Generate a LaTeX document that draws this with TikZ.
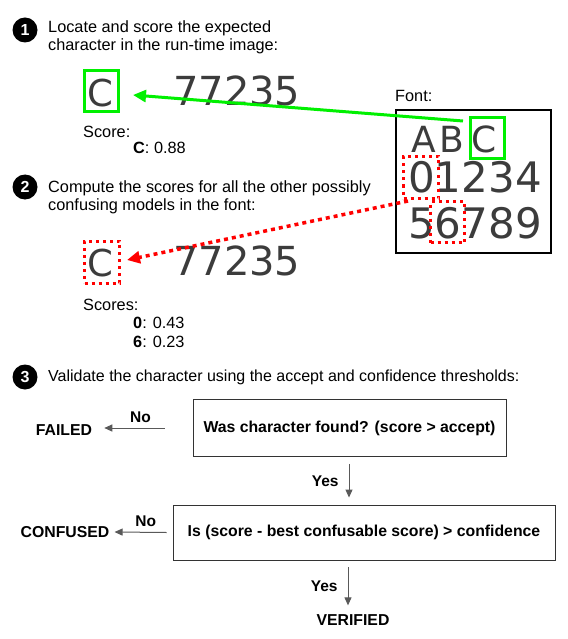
\documentclass[tikz,border=0pt]{standalone}
\usepackage{fontspec}
\setmainfont{Liberation Sans}
\newfontfamily\glyphfont{DejaVu Sans}
\definecolor{matchgreen}{RGB}{0, 240, 0}
\definecolor{confred}{RGB}{255, 0, 0}
\definecolor{glyphgray}{RGB}{60, 60, 60}
\usetikzlibrary{arrows.meta, positioning, calc}

\begin{document}
\begin{tikzpicture}[x=1pt, y=-1pt,
  badge/.style={circle, fill=black, text=white, minimum size=25pt, inner sep=0pt, font=\bfseries\fontsize{16}{16}\selectfont},
  caption/.style={anchor=base west, inner sep=0pt, font=\fontsize{16.3}{18}\selectfont},
  glyph/.style={anchor=base west, inner sep=0pt, text=glyphgray, font=\glyphfont\fontsize{40}{40}\selectfont},
  matchbox/.style={draw=matchgreen, line width=3pt, minimum width=34pt, minimum height=41pt, inner sep=0pt},
  confbox/.style={draw=confred, line width=3pt, dash pattern=on 3pt off 4pt, minimum width=35pt, minimum height=42pt, inner sep=0pt},
  flowbox/.style={draw=black!80, line width=0.9pt, inner sep=0pt, font=\bfseries\fontsize{15.8}{15.8}\selectfont},
  outcome/.style={inner sep=0pt, font=\bfseries\fontsize{15.8}{15.8}\selectfont},
  answer/.style={inner sep=0pt, font=\bfseries\fontsize{15.5}{15.5}\selectfont},
  flowarrow/.style={draw=black!65, line width=1pt, -{Triangle[length=8pt,width=7pt]}},
  ]
  \useasboundingbox (0,0) rectangle (567,639);

  % step 1
  \node[badge] (badge1) at (25,30) {1};
  \node[caption] (cap1a) at (48,33) {Locate and score the expected};
  \node[caption] (cap1b) at (48,51) {character in the run-time image:};
  \node[matchbox] (runbox1) at (101.5,91) {};
  \node[inner sep=0pt, text=glyphgray, font=\glyphfont\fontsize{37}{37}\selectfont] (runC1) at (100,93.5) {C};
  \node[glyph] (digits1) at (173,106) {77235};
  \node[caption] (score1) at (83,138) {Score:};
  \node[caption] (score1c) at (133,154) {\textbf{C}: 0.88};

  % font models
  \node[caption] (fontlabel) at (395,102) {Font:};
  \node[draw, line width=1.5pt, minimum width=155pt, minimum height=143pt, inner sep=0pt] (fontbox) at (473.5,181.5) {};
  \node[glyph, font=\glyphfont\fontsize{36}{36}\selectfont] (fontA) at (411,153) {A};
  \node[glyph, font=\glyphfont\fontsize{36}{36}\selectfont] (fontB) at (439,153) {B};
  \node[glyph, font=\glyphfont\fontsize{36}{36}\selectfont] (fontC) at (471,153) {C};
  \node[glyph, font=\glyphfont\fontsize{42}{42}\selectfont] (row0) at (408,193) {01234};
  \node[glyph, font=\glyphfont\fontsize{42}{42}\selectfont] (row5) at (408,238) {56789};
  \node[matchbox] (fontbox1) at (487.5,138) {};
  \node[confbox] (fontbox0) at (421,177.5) {};
  \node[confbox, minimum width=34pt, minimum height=41pt] (fontbox6) at (447.5,222) {};

  % step 2
  \node[badge] (badge2) at (25,187) {2};
  \node[caption] (cap2a) at (48,192) {Compute the scores for all the other possibly};
  \node[caption] (cap2b) at (48,210) {confusing models in the font:};
  \node[confbox] (runbox2) at (102,262) {};
  \node[inner sep=0pt, text=glyphgray, font=\glyphfont\fontsize{37}{37}\selectfont] (runC2) at (100,263) {C};
  \node[glyph] (digits2) at (173,275) {77235};
  \node[caption] (score2) at (83,310) {Scores:};
  \node[caption] (score20) at (133,328) {\textbf{0}: 0.43};
  \node[caption] (score26) at (133,347) {\textbf{6}: 0.23};

  \coordinate (greenstart) at (463,121);
  \coordinate (greentip) at (133,95);
  \coordinate (redstart) at (408,201);
  \coordinate (redtip) at (127,260);
  \draw[matchgreen, line width=3pt, -{Triangle[length=13pt,width=12pt]}] (greenstart) -- (greentip);
  \draw[confred, line width=3.5pt, dash pattern=on 4pt off 4pt, -{Triangle[length=13pt,width=12pt]}] (redstart) -- (redtip);

  % step 3
  \node[badge] (badge3) at (25,377) {3};
  \node[caption, font=\fontsize{16}{18}\selectfont] (cap3) at (48,381) {Validate the character using the accept and confidence thresholds:};

  \node[flowbox, minimum width=313pt, minimum height=57pt] (found) at (349.5,428) {Was character found? (score > accept)};
  \node[outcome] (failed) at (64,430) {FAILED};
  \node[flowbox, minimum width=382pt, minimum height=55pt] (confident) at (364,532.5) {Is (score - best confusable score) > confidence};
  \node[outcome] (confused) at (65,532) {CONFUSED};
  \node[outcome] (verified) at (353,620) {VERIFIED};

  \draw[flowarrow] ([xshift=-28pt]found.west) -- node[answer, pos=0.4, above=5pt] (no1) {No} ([xshift=12pt]failed.east |- found.west);
  \draw[flowarrow] ([xshift=-6pt]confident.west) -- node[answer, pos=0.4, above=5pt] (no2) {No} ([xshift=5pt]confused.east);
  \draw[flowarrow] ([yshift=-7pt]found.south -| 349,0) -- node[answer, left=10pt] (yes1) {Yes} ([yshift=7pt]confident.north -| 349,0);
  \draw[flowarrow] ([yshift=-7pt]confident.south -| 348,0) -- node[answer, left=10pt] (yes2) {Yes} ([yshift=9pt]verified.north -| 348,0);
\end{tikzpicture}
\end{document}
